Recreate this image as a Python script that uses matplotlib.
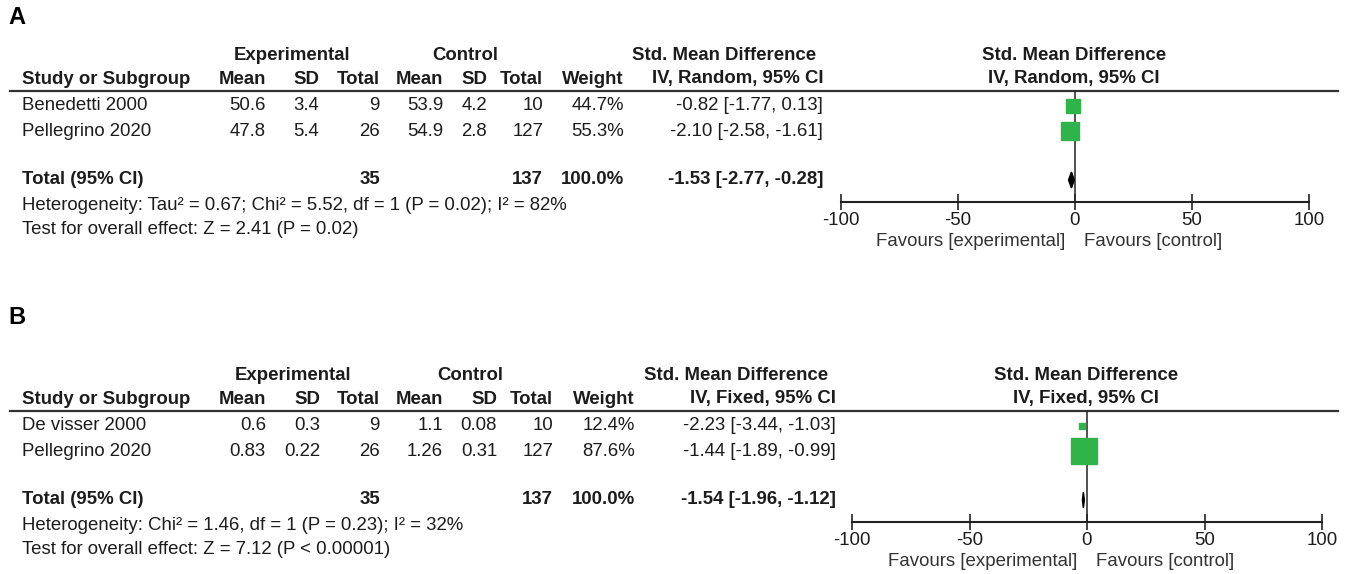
import matplotlib
matplotlib.use("Agg")
import matplotlib.pyplot as plt
from matplotlib.patches import Polygon

plt.rcParams['font.family'] = ['Liberation Sans', 'DejaVu Sans']
plt.rcParams['axes.unicode_minus'] = False

# ---- data, panel A (random effects) ----
studies_a = ["Benedetti 2000", "Pellegrino 2020"]
mean_e_a = [50.6, 47.8]
sd_e_a = [3.4, 5.4]
n_e_a = [9, 26]
mean_c_a = [53.9, 54.9]
sd_c_a = [4.2, 2.8]
n_c_a = [10, 127]
weight_a = [44.7, 55.3]
smd_a = [-0.82, -2.10]
lo_a = [-1.77, -2.58]
hi_a = [0.13, -1.61]
tot_a = [35, 137, 100.0, -1.53, -2.77, -0.28]  # n_e, n_c, weight, smd, lo, hi
het_a = "Heterogeneity: Tau\u00b2 = 0.67; Chi\u00b2 = 5.52, df = 1 (P = 0.02); I\u00b2 = 82%"
test_a = "Test for overall effect: Z = 2.41 (P = 0.02)"

# ---- data, panel B (fixed effects) ----
studies_b = ["De visser 2000", "Pellegrino 2020"]
mean_e_b = [0.6, 0.83]
sd_e_b = [0.3, 0.22]
n_e_b = [9, 26]
mean_c_b = [1.1, 1.26]
sd_c_b = [0.08, 0.31]
n_c_b = [10, 127]
weight_b = [12.4, 87.6]
smd_b = [-2.23, -1.44]
lo_b = [-3.44, -1.89]
hi_b = [-1.03, -0.99]
tot_b = [35, 137, 100.0, -1.54, -1.96, -1.12]
het_b = "Heterogeneity: Chi\u00b2 = 1.46, df = 1 (P = 0.23); I\u00b2 = 32%"
test_b = "Test for overall effect: Z = 7.12 (P < 0.00001)"

ticks = [-100, -50, 0, 50, 100]

W, H = 1345, 574
FS = 13.4
TXT = '#1c1c1c'
GREEN = '#2fb44a'

fig = plt.figure(figsize=(W / 100, H / 100), dpi=100)
bg = fig.add_axes([0, 0, 1, 1])
bg.set_xlim(0, W)
bg.set_ylim(H, 0)
bg.axis('off')


def panel(label, y_lab, y0, cols, studies, me, se, ne, mc, sc, nc, wt, smd, lo, hi, tot,
          het, test, model, fx):
    # y0 is the top of the panel in pixels; layout offsets below
    y_h1, y_h2, y_line = y0 + 55, y0 + 79, y0 + 91
    y_rows = [y0 + 106, y0 + 131]
    y_tot, y_het, y_test = y0 + 180, y0 + 205, y0 + 230
    y_axis = y0 + 202
    c_me, c_se, c_ne, c_mc, c_sc, c_nc, c_wt, c_ci, c_exp, c_ctl, c_smd, c_fp = cols

    bg.text(8, y_lab, label, fontsize=17, fontweight='bold', va='center', color='black')
    kw = dict(fontsize=FS, va='center', color=TXT)
    bkw = dict(kw, fontweight='bold')
    bg.text(c_exp, y_h1, "Experimental", ha='center', **bkw)
    bg.text(c_ctl, y_h1, "Control", ha='center', **bkw)
    bg.text(c_smd, y_h1, "Std. Mean Difference", ha='center', **bkw)
    bg.text(c_fp, y_h1, "Std. Mean Difference", ha='center', **bkw)
    bg.text(22, y_h2, "Study or Subgroup", ha='left', **bkw)
    for x, s in zip([c_me, c_se, c_ne, c_mc, c_sc, c_nc, c_wt],
                    ["Mean", "SD", "Total", "Mean", "SD", "Total", "Weight"]):
        bg.text(x, y_h2, s, ha='right', **bkw)
    bg.text(c_ci, y_h2, f"IV, {model}, 95% CI", ha='right', **bkw)
    bg.text(c_fp, y_h2, f"IV, {model}, 95% CI", ha='center', **bkw)
    bg.plot([10, 1338], [y_line, y_line], color='#333333', lw=1.6)

    for i, y in enumerate(y_rows):
        bg.text(22, y, studies[i], ha='left', **kw)
        vals = [str(me[i]), str(se[i]), str(ne[i]), str(mc[i]), str(sc[i]), str(nc[i]),
                f"{wt[i]:.1f}%"]
        for x, s in zip([c_me, c_se, c_ne, c_mc, c_sc, c_nc, c_wt], vals):
            bg.text(x, y, s, ha='right', **kw)
        bg.text(c_ci, y, f"{smd[i]:.2f} [{lo[i]:.2f}, {hi[i]:.2f}]", ha='right', **kw)

    bg.text(22, y_tot, "Total (95% CI)", ha='left', **bkw)
    bg.text(c_ne, y_tot, str(tot[0]), ha='right', **bkw)
    bg.text(c_nc, y_tot, str(tot[1]), ha='right', **bkw)
    bg.text(c_wt, y_tot, f"{tot[2]:.1f}%", ha='right', **bkw)
    bg.text(c_ci, y_tot, f"{tot[3]:.2f} [{tot[4]:.2f}, {tot[5]:.2f}]", ha='right', **bkw)
    bg.text(22, y_het, het, ha='left', **kw)
    bg.text(22, y_test, test, ha='left', **kw)

    # forest plot axes: x in SMD units, y in pixel rows
    x0, x1 = fx
    ax = fig.add_axes([x0 / W, 1 - y_axis / H, (x1 - x0) / W, (y_axis - y_line) / H])
    ax.set_xlim(-100, 100)
    ax.set_ylim(y_axis, y_line)
    ax.patch.set_alpha(0)
    for s in ['top', 'left', 'right']:
        ax.spines[s].set_visible(False)
    ax.spines['bottom'].set_linewidth(1.5)
    ax.spines['bottom'].set_color('#222222')
    ax.set_yticks([])
    ax.set_xticks(ticks)
    ax.tick_params(axis='x', direction='inout', length=12, width=1.2, pad=1,
                   labelsize=FS, labelcolor=TXT, color='#222222')
    ax.axvline(0, color='#222222', lw=1.1, zorder=1)

    sides = [(0.28 * w + 2) * 0.72 for w in wt]
    ax.hlines(y_rows, lo, hi, color='black', lw=1, zorder=2)
    for i, y in enumerate(y_rows):
        ax.plot(smd[i], y, marker='s', ms=sides[i], color=GREEN, mec=GREEN, zorder=3)
    dh = 8
    ax.add_patch(Polygon([[tot[4], y_tot], [tot[3], y_tot - dh], [tot[5], y_tot],
                          [tot[3], y_tot + dh]], closed=True, color='black', zorder=3))
    ax.text(-4, y_axis + 40, "Favours [experimental]", ha='right', va='center',
            fontsize=FS, color='#333333', clip_on=False)
    ax.text(4, y_axis + 40, "Favours [control]", ha='left', va='center',
            fontsize=FS, color='#333333', clip_on=False)


cols_a = [266, 319, 380, 443, 487, 543, 624, 823, 292, 465, 724, 1074]
cols_b = [266, 320, 380, 443, 497, 553, 635, 836, 293, 470, 736, 1086]

panel("A", 18, 0, cols_a, studies_a, mean_e_a, sd_e_a, n_e_a, mean_c_a, sd_c_a, n_c_a,
      weight_a, smd_a, lo_a, hi_a, tot_a, het_a, test_a, "Random", (841, 1309))
panel("B", 318, 320, cols_b, studies_b, mean_e_b, sd_e_b, n_e_b, mean_c_b, sd_c_b, n_c_b,
      weight_b, smd_b, lo_b, hi_b, tot_b, het_b, test_b, "Fixed", (852, 1322))

fig.savefig("out.png", dpi=100)
